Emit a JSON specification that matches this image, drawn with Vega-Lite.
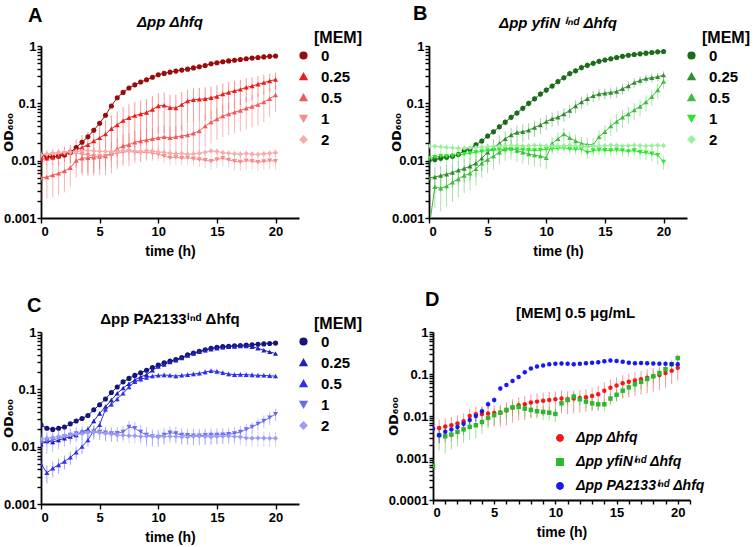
{
  "$schema": "https://vega.github.io/schema/vega-lite/v6.json",
  "background": "white",
  "padding": {"left": 2, "top": 4, "right": 4, "bottom": 4},
  "data": {"values": [
    {"g":"A","m":"0","t":0,"y":0.0124},{"g":"A","m":"0","t":0.5,"y":0.0118},{"g":"A","m":"0","t":1,"y":0.0116},{"g":"A","m":"0","t":1.5,"y":0.012},{"g":"A","m":"0","t":2,"y":0.0126},{"g":"A","m":"0","t":2.5,"y":0.014},{"g":"A","m":"0","t":3,"y":0.017},{"g":"A","m":"0","t":3.5,"y":0.021},{"g":"A","m":"0","t":4,"y":0.026},{"g":"A","m":"0","t":4.5,"y":0.034},{"g":"A","m":"0","t":5,"y":0.045},{"g":"A","m":"0","t":5.5,"y":0.062},{"g":"A","m":"0","t":6,"y":0.09},{"g":"A","m":"0","t":6.5,"y":0.125},{"g":"A","m":"0","t":7,"y":0.155},{"g":"A","m":"0","t":7.5,"y":0.185},{"g":"A","m":"0","t":8,"y":0.21},{"g":"A","m":"0","t":8.5,"y":0.235},{"g":"A","m":"0","t":9,"y":0.258},{"g":"A","m":"0","t":9.5,"y":0.285},{"g":"A","m":"0","t":10,"y":0.315},{"g":"A","m":"0","t":10.5,"y":0.333},{"g":"A","m":"0","t":11,"y":0.35},{"g":"A","m":"0","t":11.5,"y":0.365},{"g":"A","m":"0","t":12,"y":0.38},{"g":"A","m":"0","t":12.5,"y":0.395},{"g":"A","m":"0","t":13,"y":0.415},{"g":"A","m":"0","t":13.5,"y":0.435},{"g":"A","m":"0","t":14,"y":0.455},{"g":"A","m":"0","t":14.5,"y":0.49},{"g":"A","m":"0","t":15,"y":0.51},{"g":"A","m":"0","t":15.5,"y":0.53},{"g":"A","m":"0","t":16,"y":0.55},{"g":"A","m":"0","t":16.5,"y":0.565},{"g":"A","m":"0","t":17,"y":0.58},{"g":"A","m":"0","t":17.5,"y":0.6},{"g":"A","m":"0","t":18,"y":0.615},{"g":"A","m":"0","t":18.5,"y":0.63},{"g":"A","m":"0","t":19,"y":0.645},{"g":"A","m":"0","t":19.5,"y":0.66},{"g":"A","m":"0","t":20,"y":0.67},

    {"g":"A","m":"0.25","t":0,"y":0.0105,"e":0.003},{"g":"A","m":"0.25","t":0.5,"y":0.011,"e":0.003},{"g":"A","m":"0.25","t":1,"y":0.0115,"e":0.003},{"g":"A","m":"0.25","t":1.5,"y":0.012,"e":0.0035},{"g":"A","m":"0.25","t":2,"y":0.0135,"e":0.004},{"g":"A","m":"0.25","t":2.5,"y":0.014,"e":0.005},{"g":"A","m":"0.25","t":3,"y":0.0155,"e":0.008},{"g":"A","m":"0.25","t":3.5,"y":0.017,"e":0.011},{"g":"A","m":"0.25","t":4,"y":0.019,"e":0.013},{"g":"A","m":"0.25","t":4.5,"y":0.022,"e":0.016},{"g":"A","m":"0.25","t":5,"y":0.025,"e":0.018},{"g":"A","m":"0.25","t":5.5,"y":0.029,"e":0.021},{"g":"A","m":"0.25","t":6,"y":0.036,"e":0.026},{"g":"A","m":"0.25","t":6.5,"y":0.042,"e":0.03},{"g":"A","m":"0.25","t":7,"y":0.05,"e":0.036},{"g":"A","m":"0.25","t":7.5,"y":0.056,"e":0.04},{"g":"A","m":"0.25","t":8,"y":0.061,"e":0.044},{"g":"A","m":"0.25","t":8.5,"y":0.065,"e":0.047},{"g":"A","m":"0.25","t":9,"y":0.069,"e":0.05},{"g":"A","m":"0.25","t":9.5,"y":0.078,"e":0.056},{"g":"A","m":"0.25","t":10,"y":0.09,"e":0.06},{"g":"A","m":"0.25","t":10.5,"y":0.092,"e":0.062},{"g":"A","m":"0.25","t":11,"y":0.084,"e":0.058},{"g":"A","m":"0.25","t":11.5,"y":0.083,"e":0.058},{"g":"A","m":"0.25","t":12,"y":0.095,"e":0.062},{"g":"A","m":"0.25","t":12.5,"y":0.11,"e":0.065},{"g":"A","m":"0.25","t":13,"y":0.115,"e":0.068},{"g":"A","m":"0.25","t":13.5,"y":0.118,"e":0.068},{"g":"A","m":"0.25","t":14,"y":0.12,"e":0.07},{"g":"A","m":"0.25","t":14.5,"y":0.125,"e":0.072},{"g":"A","m":"0.25","t":15,"y":0.132,"e":0.075},{"g":"A","m":"0.25","t":15.5,"y":0.145,"e":0.078},{"g":"A","m":"0.25","t":16,"y":0.155,"e":0.08},{"g":"A","m":"0.25","t":16.5,"y":0.165,"e":0.082},{"g":"A","m":"0.25","t":17,"y":0.175,"e":0.083},{"g":"A","m":"0.25","t":17.5,"y":0.19,"e":0.085},{"g":"A","m":"0.25","t":18,"y":0.2,"e":0.085},{"g":"A","m":"0.25","t":18.5,"y":0.215,"e":0.085},{"g":"A","m":"0.25","t":19,"y":0.23,"e":0.085},{"g":"A","m":"0.25","t":19.5,"y":0.245,"e":0.085},{"g":"A","m":"0.25","t":20,"y":0.26,"e":0.085},

    {"g":"A","m":"0.5","t":0,"y":0.005,"e":0.003},{"g":"A","m":"0.5","t":0.5,"y":0.0052,"e":0.003},{"g":"A","m":"0.5","t":1,"y":0.0056,"e":0.0033},{"g":"A","m":"0.5","t":1.5,"y":0.006,"e":0.0035},{"g":"A","m":"0.5","t":2,"y":0.0066,"e":0.0038},{"g":"A","m":"0.5","t":2.5,"y":0.0075,"e":0.004},{"g":"A","m":"0.5","t":3,"y":0.01,"e":0.005},{"g":"A","m":"0.5","t":3.5,"y":0.011,"e":0.0055},{"g":"A","m":"0.5","t":4,"y":0.0112,"e":0.0058},{"g":"A","m":"0.5","t":4.5,"y":0.0115,"e":0.006},{"g":"A","m":"0.5","t":5,"y":0.0118,"e":0.0062},{"g":"A","m":"0.5","t":5.5,"y":0.012,"e":0.0065},{"g":"A","m":"0.5","t":6,"y":0.0135,"e":0.0075},{"g":"A","m":"0.5","t":6.5,"y":0.016,"e":0.009},{"g":"A","m":"0.5","t":7,"y":0.018,"e":0.01},{"g":"A","m":"0.5","t":7.5,"y":0.019,"e":0.011},{"g":"A","m":"0.5","t":8,"y":0.021,"e":0.012},{"g":"A","m":"0.5","t":8.5,"y":0.022,"e":0.0125},{"g":"A","m":"0.5","t":9,"y":0.023,"e":0.013},{"g":"A","m":"0.5","t":9.5,"y":0.024,"e":0.0135},{"g":"A","m":"0.5","t":10,"y":0.025,"e":0.014},{"g":"A","m":"0.5","t":10.5,"y":0.026,"e":0.0145},{"g":"A","m":"0.5","t":11,"y":0.025,"e":0.014},{"g":"A","m":"0.5","t":11.5,"y":0.026,"e":0.0145},{"g":"A","m":"0.5","t":12,"y":0.027,"e":0.015},{"g":"A","m":"0.5","t":12.5,"y":0.028,"e":0.0155},{"g":"A","m":"0.5","t":13,"y":0.03,"e":0.017},{"g":"A","m":"0.5","t":13.5,"y":0.033,"e":0.019},{"g":"A","m":"0.5","t":14,"y":0.04,"e":0.023},{"g":"A","m":"0.5","t":14.5,"y":0.047,"e":0.027},{"g":"A","m":"0.5","t":15,"y":0.053,"e":0.03},{"g":"A","m":"0.5","t":15.5,"y":0.06,"e":0.034},{"g":"A","m":"0.5","t":16,"y":0.065,"e":0.037},{"g":"A","m":"0.5","t":16.5,"y":0.07,"e":0.04},{"g":"A","m":"0.5","t":17,"y":0.075,"e":0.043},{"g":"A","m":"0.5","t":17.5,"y":0.082,"e":0.047},{"g":"A","m":"0.5","t":18,"y":0.088,"e":0.05},{"g":"A","m":"0.5","t":18.5,"y":0.095,"e":0.054},{"g":"A","m":"0.5","t":19,"y":0.105,"e":0.058},{"g":"A","m":"0.5","t":19.5,"y":0.12,"e":0.062},{"g":"A","m":"0.5","t":20,"y":0.14,"e":0.07},

    {"g":"A","m":"1","t":0,"y":0.012,"e":0.003},{"g":"A","m":"1","t":0.5,"y":0.0125,"e":0.003},{"g":"A","m":"1","t":1,"y":0.013,"e":0.003},{"g":"A","m":"1","t":1.5,"y":0.013,"e":0.003},{"g":"A","m":"1","t":2,"y":0.0135,"e":0.003},{"g":"A","m":"1","t":2.5,"y":0.0135,"e":0.003},{"g":"A","m":"1","t":3,"y":0.0135,"e":0.003},{"g":"A","m":"1","t":3.5,"y":0.013,"e":0.003},{"g":"A","m":"1","t":4,"y":0.0125,"e":0.0035},{"g":"A","m":"1","t":4.5,"y":0.012,"e":0.004},{"g":"A","m":"1","t":5,"y":0.0118,"e":0.0045},{"g":"A","m":"1","t":5.5,"y":0.012,"e":0.005},{"g":"A","m":"1","t":6,"y":0.013,"e":0.0055},{"g":"A","m":"1","t":6.5,"y":0.0135,"e":0.0055},{"g":"A","m":"1","t":7,"y":0.014,"e":0.005},{"g":"A","m":"1","t":7.5,"y":0.0145,"e":0.0045},{"g":"A","m":"1","t":8,"y":0.014,"e":0.004},{"g":"A","m":"1","t":8.5,"y":0.0138,"e":0.004},{"g":"A","m":"1","t":9,"y":0.014,"e":0.0035},{"g":"A","m":"1","t":9.5,"y":0.0135,"e":0.0035},{"g":"A","m":"1","t":10,"y":0.013,"e":0.003},{"g":"A","m":"1","t":10.5,"y":0.012,"e":0.003},{"g":"A","m":"1","t":11,"y":0.0112,"e":0.003},{"g":"A","m":"1","t":11.5,"y":0.0115,"e":0.003},{"g":"A","m":"1","t":12,"y":0.011,"e":0.0028},{"g":"A","m":"1","t":12.5,"y":0.0112,"e":0.0028},{"g":"A","m":"1","t":13,"y":0.0108,"e":0.0028},{"g":"A","m":"1","t":13.5,"y":0.0105,"e":0.0028},{"g":"A","m":"1","t":14,"y":0.0102,"e":0.0028},{"g":"A","m":"1","t":14.5,"y":0.0098,"e":0.0028},{"g":"A","m":"1","t":15,"y":0.0105,"e":0.003},{"g":"A","m":"1","t":15.5,"y":0.011,"e":0.003},{"g":"A","m":"1","t":16,"y":0.0103,"e":0.003},{"g":"A","m":"1","t":16.5,"y":0.0098,"e":0.003},{"g":"A","m":"1","t":17,"y":0.0095,"e":0.003},{"g":"A","m":"1","t":17.5,"y":0.01,"e":0.003},{"g":"A","m":"1","t":18,"y":0.0098,"e":0.0028},{"g":"A","m":"1","t":18.5,"y":0.0094,"e":0.0028},{"g":"A","m":"1","t":19,"y":0.0097,"e":0.0028},{"g":"A","m":"1","t":19.5,"y":0.01,"e":0.0028},{"g":"A","m":"1","t":20,"y":0.0098,"e":0.0028},

    {"g":"A","m":"2","t":0,"y":0.0125,"e":0.002},{"g":"A","m":"2","t":0.5,"y":0.013,"e":0.002},{"g":"A","m":"2","t":1,"y":0.0135,"e":0.002},{"g":"A","m":"2","t":1.5,"y":0.014,"e":0.002},{"g":"A","m":"2","t":2,"y":0.014,"e":0.002},{"g":"A","m":"2","t":2.5,"y":0.0142,"e":0.002},{"g":"A","m":"2","t":3,"y":0.0145,"e":0.0025},{"g":"A","m":"2","t":3.5,"y":0.0148,"e":0.0025},{"g":"A","m":"2","t":4,"y":0.015,"e":0.0025},{"g":"A","m":"2","t":4.5,"y":0.0148,"e":0.0025},{"g":"A","m":"2","t":5,"y":0.0146,"e":0.0025},{"g":"A","m":"2","t":5.5,"y":0.0145,"e":0.0025},{"g":"A","m":"2","t":6,"y":0.0143,"e":0.0025},{"g":"A","m":"2","t":6.5,"y":0.0146,"e":0.0025},{"g":"A","m":"2","t":7,"y":0.015,"e":0.0025},{"g":"A","m":"2","t":7.5,"y":0.0148,"e":0.0025},{"g":"A","m":"2","t":8,"y":0.0145,"e":0.002},{"g":"A","m":"2","t":8.5,"y":0.0143,"e":0.002},{"g":"A","m":"2","t":9,"y":0.015,"e":0.002},{"g":"A","m":"2","t":9.5,"y":0.0147,"e":0.002},{"g":"A","m":"2","t":10,"y":0.0142,"e":0.002},{"g":"A","m":"2","t":10.5,"y":0.014,"e":0.002},{"g":"A","m":"2","t":11,"y":0.0135,"e":0.002},{"g":"A","m":"2","t":11.5,"y":0.0132,"e":0.002},{"g":"A","m":"2","t":12,"y":0.0134,"e":0.002},{"g":"A","m":"2","t":12.5,"y":0.013,"e":0.002},{"g":"A","m":"2","t":13,"y":0.0132,"e":0.002},{"g":"A","m":"2","t":13.5,"y":0.0135,"e":0.002},{"g":"A","m":"2","t":14,"y":0.014,"e":0.002},{"g":"A","m":"2","t":14.5,"y":0.0148,"e":0.002},{"g":"A","m":"2","t":15,"y":0.0145,"e":0.002},{"g":"A","m":"2","t":15.5,"y":0.0138,"e":0.002},{"g":"A","m":"2","t":16,"y":0.0135,"e":0.002},{"g":"A","m":"2","t":16.5,"y":0.0132,"e":0.002},{"g":"A","m":"2","t":17,"y":0.013,"e":0.002},{"g":"A","m":"2","t":17.5,"y":0.0133,"e":0.002},{"g":"A","m":"2","t":18,"y":0.013,"e":0.002},{"g":"A","m":"2","t":18.5,"y":0.0128,"e":0.002},{"g":"A","m":"2","t":19,"y":0.0132,"e":0.002},{"g":"A","m":"2","t":19.5,"y":0.0135,"e":0.002},{"g":"A","m":"2","t":20,"y":0.0138,"e":0.002},

    {"g":"B","m":"0","t":0,"y":0.01,"e":0.0012},{"g":"B","m":"0","t":0.5,"y":0.0105,"e":0.0013},{"g":"B","m":"0","t":1,"y":0.011,"e":0.0013},{"g":"B","m":"0","t":1.5,"y":0.0115,"e":0.0014},{"g":"B","m":"0","t":2,"y":0.012,"e":0.0014},{"g":"B","m":"0","t":2.5,"y":0.0128,"e":0.0015},{"g":"B","m":"0","t":3,"y":0.015,"e":0.0018},{"g":"B","m":"0","t":3.5,"y":0.016,"e":0.002},{"g":"B","m":"0","t":4,"y":0.019,"e":0.0023},{"g":"B","m":"0","t":4.5,"y":0.022,"e":0.0026},{"g":"B","m":"0","t":5,"y":0.027,"e":0.0032},{"g":"B","m":"0","t":5.5,"y":0.032,"e":0.0038},{"g":"B","m":"0","t":6,"y":0.039,"e":0.0047},{"g":"B","m":"0","t":6.5,"y":0.047,"e":0.0056},{"g":"B","m":"0","t":7,"y":0.057,"e":0.0068},{"g":"B","m":"0","t":7.5,"y":0.068,"e":0.0082},{"g":"B","m":"0","t":8,"y":0.082,"e":0.01},{"g":"B","m":"0","t":8.5,"y":0.1,"e":0.012},{"g":"B","m":"0","t":9,"y":0.12,"e":0.015},{"g":"B","m":"0","t":9.5,"y":0.145,"e":0.018},{"g":"B","m":"0","t":10,"y":0.17,"e":0.021},{"g":"B","m":"0","t":10.5,"y":0.2,"e":0.025},{"g":"B","m":"0","t":11,"y":0.24,"e":0.029},{"g":"B","m":"0","t":11.5,"y":0.28,"e":0.034},{"g":"B","m":"0","t":12,"y":0.33,"e":0.04},{"g":"B","m":"0","t":12.5,"y":0.37,"e":0.044},{"g":"B","m":"0","t":13,"y":0.42,"e":0.05},{"g":"B","m":"0","t":13.5,"y":0.46,"e":0.055},{"g":"B","m":"0","t":14,"y":0.5,"e":0.06},{"g":"B","m":"0","t":14.5,"y":0.54,"e":0.062},{"g":"B","m":"0","t":15,"y":0.57,"e":0.065},{"g":"B","m":"0","t":15.5,"y":0.6,"e":0.066},{"g":"B","m":"0","t":16,"y":0.63,"e":0.066},{"g":"B","m":"0","t":16.5,"y":0.66,"e":0.066},{"g":"B","m":"0","t":17,"y":0.69,"e":0.066},{"g":"B","m":"0","t":17.5,"y":0.71,"e":0.064},{"g":"B","m":"0","t":18,"y":0.73,"e":0.062},{"g":"B","m":"0","t":18.5,"y":0.75,"e":0.06},{"g":"B","m":"0","t":19,"y":0.77,"e":0.058},{"g":"B","m":"0","t":19.5,"y":0.79,"e":0.055},{"g":"B","m":"0","t":20,"y":0.8,"e":0.05},

    {"g":"B","m":"0.25","t":0,"y":0.005,"e":0.0025},{"g":"B","m":"0.25","t":0.5,"y":0.0052,"e":0.0025},{"g":"B","m":"0.25","t":1,"y":0.0055,"e":0.0026},{"g":"B","m":"0.25","t":1.5,"y":0.0058,"e":0.0027},{"g":"B","m":"0.25","t":2,"y":0.0062,"e":0.0028},{"g":"B","m":"0.25","t":2.5,"y":0.0068,"e":0.003},{"g":"B","m":"0.25","t":3,"y":0.0073,"e":0.0032},{"g":"B","m":"0.25","t":3.5,"y":0.008,"e":0.0035},{"g":"B","m":"0.25","t":4,"y":0.009,"e":0.0038},{"g":"B","m":"0.25","t":4.5,"y":0.011,"e":0.0045},{"g":"B","m":"0.25","t":5,"y":0.014,"e":0.0055},{"g":"B","m":"0.25","t":5.5,"y":0.017,"e":0.0065},{"g":"B","m":"0.25","t":6,"y":0.02,"e":0.0075},{"g":"B","m":"0.25","t":6.5,"y":0.024,"e":0.0085},{"g":"B","m":"0.25","t":7,"y":0.028,"e":0.0095},{"g":"B","m":"0.25","t":7.5,"y":0.031,"e":0.01},{"g":"B","m":"0.25","t":8,"y":0.032,"e":0.011},{"g":"B","m":"0.25","t":8.5,"y":0.034,"e":0.011},{"g":"B","m":"0.25","t":9,"y":0.038,"e":0.012},{"g":"B","m":"0.25","t":9.5,"y":0.042,"e":0.013},{"g":"B","m":"0.25","t":10,"y":0.048,"e":0.014},{"g":"B","m":"0.25","t":10.5,"y":0.054,"e":0.015},{"g":"B","m":"0.25","t":11,"y":0.057,"e":0.016},{"g":"B","m":"0.25","t":11.5,"y":0.065,"e":0.018},{"g":"B","m":"0.25","t":12,"y":0.075,"e":0.02},{"g":"B","m":"0.25","t":12.5,"y":0.09,"e":0.023},{"g":"B","m":"0.25","t":13,"y":0.105,"e":0.026},{"g":"B","m":"0.25","t":13.5,"y":0.12,"e":0.028},{"g":"B","m":"0.25","t":14,"y":0.135,"e":0.03},{"g":"B","m":"0.25","t":14.5,"y":0.145,"e":0.032},{"g":"B","m":"0.25","t":15,"y":0.15,"e":0.033},{"g":"B","m":"0.25","t":15.5,"y":0.155,"e":0.034},{"g":"B","m":"0.25","t":16,"y":0.16,"e":0.035},{"g":"B","m":"0.25","t":16.5,"y":0.18,"e":0.038},{"g":"B","m":"0.25","t":17,"y":0.2,"e":0.04},{"g":"B","m":"0.25","t":17.5,"y":0.23,"e":0.043},{"g":"B","m":"0.25","t":18,"y":0.25,"e":0.045},{"g":"B","m":"0.25","t":18.5,"y":0.27,"e":0.048},{"g":"B","m":"0.25","t":19,"y":0.28,"e":0.05},{"g":"B","m":"0.25","t":19.5,"y":0.29,"e":0.05},{"g":"B","m":"0.25","t":20,"y":0.31,"e":0.05},

    {"g":"B","m":"0.5","t":0,"y":0.00065,"e":0.0003},{"g":"B","m":"0.5","t":0.5,"y":0.0035,"e":0.002},{"g":"B","m":"0.5","t":1,"y":0.0033,"e":0.002},{"g":"B","m":"0.5","t":1.5,"y":0.0036,"e":0.002},{"g":"B","m":"0.5","t":2,"y":0.0042,"e":0.0023},{"g":"B","m":"0.5","t":2.5,"y":0.0048,"e":0.0025},{"g":"B","m":"0.5","t":3,"y":0.0055,"e":0.0028},{"g":"B","m":"0.5","t":3.5,"y":0.006,"e":0.003},{"g":"B","m":"0.5","t":4,"y":0.0072,"e":0.0035},{"g":"B","m":"0.5","t":4.5,"y":0.009,"e":0.004},{"g":"B","m":"0.5","t":5,"y":0.0105,"e":0.0045},{"g":"B","m":"0.5","t":5.5,"y":0.012,"e":0.005},{"g":"B","m":"0.5","t":6,"y":0.014,"e":0.0055},{"g":"B","m":"0.5","t":6.5,"y":0.016,"e":0.006},{"g":"B","m":"0.5","t":7,"y":0.0165,"e":0.006},{"g":"B","m":"0.5","t":7.5,"y":0.015,"e":0.0055},{"g":"B","m":"0.5","t":8,"y":0.014,"e":0.005},{"g":"B","m":"0.5","t":8.5,"y":0.013,"e":0.0045},{"g":"B","m":"0.5","t":9,"y":0.0125,"e":0.0045},{"g":"B","m":"0.5","t":9.5,"y":0.012,"e":0.0042},{"g":"B","m":"0.5","t":10,"y":0.0112,"e":0.004},{"g":"B","m":"0.5","t":10.5,"y":0.02,"e":0.006},{"g":"B","m":"0.5","t":11,"y":0.024,"e":0.007},{"g":"B","m":"0.5","t":11.5,"y":0.029,"e":0.008},{"g":"B","m":"0.5","t":12,"y":0.025,"e":0.007},{"g":"B","m":"0.5","t":12.5,"y":0.022,"e":0.0065},{"g":"B","m":"0.5","t":13,"y":0.02,"e":0.006},{"g":"B","m":"0.5","t":13.5,"y":0.019,"e":0.006},{"g":"B","m":"0.5","t":14,"y":0.019,"e":0.006},{"g":"B","m":"0.5","t":14.5,"y":0.026,"e":0.008},{"g":"B","m":"0.5","t":15,"y":0.032,"e":0.01},{"g":"B","m":"0.5","t":15.5,"y":0.04,"e":0.013},{"g":"B","m":"0.5","t":16,"y":0.048,"e":0.016},{"g":"B","m":"0.5","t":16.5,"y":0.057,"e":0.019},{"g":"B","m":"0.5","t":17,"y":0.065,"e":0.022},{"g":"B","m":"0.5","t":17.5,"y":0.076,"e":0.025},{"g":"B","m":"0.5","t":18,"y":0.088,"e":0.029},{"g":"B","m":"0.5","t":18.5,"y":0.105,"e":0.033},{"g":"B","m":"0.5","t":19,"y":0.13,"e":0.04},{"g":"B","m":"0.5","t":19.5,"y":0.17,"e":0.05},{"g":"B","m":"0.5","t":20,"y":0.24,"e":0.06},

    {"g":"B","m":"1","t":0,"y":0.011,"e":0.003},{"g":"B","m":"1","t":0.5,"y":0.0115,"e":0.003},{"g":"B","m":"1","t":1,"y":0.012,"e":0.003},{"g":"B","m":"1","t":1.5,"y":0.0118,"e":0.003},{"g":"B","m":"1","t":2,"y":0.012,"e":0.003},{"g":"B","m":"1","t":2.5,"y":0.0125,"e":0.003},{"g":"B","m":"1","t":3,"y":0.013,"e":0.003},{"g":"B","m":"1","t":3.5,"y":0.0135,"e":0.003},{"g":"B","m":"1","t":4,"y":0.014,"e":0.003},{"g":"B","m":"1","t":4.5,"y":0.0145,"e":0.003},{"g":"B","m":"1","t":5,"y":0.015,"e":0.003},{"g":"B","m":"1","t":5.5,"y":0.0152,"e":0.003},{"g":"B","m":"1","t":6,"y":0.0155,"e":0.003},{"g":"B","m":"1","t":6.5,"y":0.016,"e":0.003},{"g":"B","m":"1","t":7,"y":0.0158,"e":0.003},{"g":"B","m":"1","t":7.5,"y":0.016,"e":0.003},{"g":"B","m":"1","t":8,"y":0.0155,"e":0.003},{"g":"B","m":"1","t":8.5,"y":0.0152,"e":0.003},{"g":"B","m":"1","t":9,"y":0.015,"e":0.003},{"g":"B","m":"1","t":9.5,"y":0.0153,"e":0.003},{"g":"B","m":"1","t":10,"y":0.0158,"e":0.003},{"g":"B","m":"1","t":10.5,"y":0.016,"e":0.003},{"g":"B","m":"1","t":11,"y":0.0165,"e":0.003},{"g":"B","m":"1","t":11.5,"y":0.0168,"e":0.003},{"g":"B","m":"1","t":12,"y":0.016,"e":0.003},{"g":"B","m":"1","t":12.5,"y":0.0158,"e":0.003},{"g":"B","m":"1","t":13,"y":0.016,"e":0.003},{"g":"B","m":"1","t":13.5,"y":0.0138,"e":0.003},{"g":"B","m":"1","t":14,"y":0.015,"e":0.003},{"g":"B","m":"1","t":14.5,"y":0.0155,"e":0.003},{"g":"B","m":"1","t":15,"y":0.0152,"e":0.003},{"g":"B","m":"1","t":15.5,"y":0.015,"e":0.003},{"g":"B","m":"1","t":16,"y":0.0155,"e":0.003},{"g":"B","m":"1","t":16.5,"y":0.015,"e":0.003},{"g":"B","m":"1","t":17,"y":0.0145,"e":0.003},{"g":"B","m":"1","t":17.5,"y":0.015,"e":0.003},{"g":"B","m":"1","t":18,"y":0.014,"e":0.0035},{"g":"B","m":"1","t":18.5,"y":0.0138,"e":0.0035},{"g":"B","m":"1","t":19,"y":0.0132,"e":0.0035},{"g":"B","m":"1","t":19.5,"y":0.0125,"e":0.004},{"g":"B","m":"1","t":20,"y":0.0095,"e":0.0025},

    {"g":"B","m":"2","t":0,"y":0.018,"e":0.0025},{"g":"B","m":"2","t":0.5,"y":0.0178,"e":0.0025},{"g":"B","m":"2","t":1,"y":0.0175,"e":0.0025},{"g":"B","m":"2","t":1.5,"y":0.017,"e":0.0025},{"g":"B","m":"2","t":2,"y":0.0168,"e":0.0025},{"g":"B","m":"2","t":2.5,"y":0.0165,"e":0.0025},{"g":"B","m":"2","t":3,"y":0.0165,"e":0.0025},{"g":"B","m":"2","t":3.5,"y":0.0168,"e":0.0025},{"g":"B","m":"2","t":4,"y":0.017,"e":0.0025},{"g":"B","m":"2","t":4.5,"y":0.0172,"e":0.0025},{"g":"B","m":"2","t":5,"y":0.0175,"e":0.0025},{"g":"B","m":"2","t":5.5,"y":0.0178,"e":0.0025},{"g":"B","m":"2","t":6,"y":0.018,"e":0.0025},{"g":"B","m":"2","t":6.5,"y":0.0182,"e":0.0025},{"g":"B","m":"2","t":7,"y":0.0185,"e":0.0025},{"g":"B","m":"2","t":7.5,"y":0.0183,"e":0.0025},{"g":"B","m":"2","t":8,"y":0.018,"e":0.0025},{"g":"B","m":"2","t":8.5,"y":0.0182,"e":0.0025},{"g":"B","m":"2","t":9,"y":0.0185,"e":0.0025},{"g":"B","m":"2","t":9.5,"y":0.0183,"e":0.0025},{"g":"B","m":"2","t":10,"y":0.018,"e":0.0025},{"g":"B","m":"2","t":10.5,"y":0.0178,"e":0.0025},{"g":"B","m":"2","t":11,"y":0.018,"e":0.0025},{"g":"B","m":"2","t":11.5,"y":0.0182,"e":0.0025},{"g":"B","m":"2","t":12,"y":0.0185,"e":0.0025},{"g":"B","m":"2","t":12.5,"y":0.018,"e":0.0025},{"g":"B","m":"2","t":13,"y":0.0178,"e":0.0025},{"g":"B","m":"2","t":13.5,"y":0.0175,"e":0.0025},{"g":"B","m":"2","t":14,"y":0.0178,"e":0.0025},{"g":"B","m":"2","t":14.5,"y":0.018,"e":0.0025},{"g":"B","m":"2","t":15,"y":0.0182,"e":0.0025},{"g":"B","m":"2","t":15.5,"y":0.0185,"e":0.0025},{"g":"B","m":"2","t":16,"y":0.0183,"e":0.0025},{"g":"B","m":"2","t":16.5,"y":0.018,"e":0.0025},{"g":"B","m":"2","t":17,"y":0.0182,"e":0.0025},{"g":"B","m":"2","t":17.5,"y":0.0185,"e":0.0025},{"g":"B","m":"2","t":18,"y":0.0183,"e":0.0025},{"g":"B","m":"2","t":18.5,"y":0.018,"e":0.0025},{"g":"B","m":"2","t":19,"y":0.0182,"e":0.0025},{"g":"B","m":"2","t":19.5,"y":0.0185,"e":0.0025},{"g":"B","m":"2","t":20,"y":0.0183,"e":0.0025},

    {"g":"C","m":"0","t":0,"y":0.024,"e":0.0012},{"g":"C","m":"0","t":0.5,"y":0.021,"e":0.001},{"g":"C","m":"0","t":1,"y":0.02,"e":0.001},{"g":"C","m":"0","t":1.5,"y":0.021,"e":0.001},{"g":"C","m":"0","t":2,"y":0.022,"e":0.0011},{"g":"C","m":"0","t":2.5,"y":0.025,"e":0.0012},{"g":"C","m":"0","t":3,"y":0.028,"e":0.0014},{"g":"C","m":"0","t":3.5,"y":0.031,"e":0.0016},{"g":"C","m":"0","t":4,"y":0.035,"e":0.0018},{"g":"C","m":"0","t":4.5,"y":0.044,"e":0.0022},{"g":"C","m":"0","t":5,"y":0.054,"e":0.0027},{"g":"C","m":"0","t":5.5,"y":0.068,"e":0.0034},{"g":"C","m":"0","t":6,"y":0.088,"e":0.0044},{"g":"C","m":"0","t":6.5,"y":0.11,"e":0.0055},{"g":"C","m":"0","t":7,"y":0.135,"e":0.0068},{"g":"C","m":"0","t":7.5,"y":0.155,"e":0.0078},{"g":"C","m":"0","t":8,"y":0.175,"e":0.0088},{"g":"C","m":"0","t":8.5,"y":0.195,"e":0.0098},{"g":"C","m":"0","t":9,"y":0.215,"e":0.011},{"g":"C","m":"0","t":9.5,"y":0.24,"e":0.012},{"g":"C","m":"0","t":10,"y":0.265,"e":0.013},{"g":"C","m":"0","t":10.5,"y":0.29,"e":0.0145},{"g":"C","m":"0","t":11,"y":0.31,"e":0.0155},{"g":"C","m":"0","t":11.5,"y":0.33,"e":0.0165},{"g":"C","m":"0","t":12,"y":0.36,"e":0.018},{"g":"C","m":"0","t":12.5,"y":0.4,"e":0.02},{"g":"C","m":"0","t":13,"y":0.43,"e":0.021},{"g":"C","m":"0","t":13.5,"y":0.46,"e":0.023},{"g":"C","m":"0","t":14,"y":0.49,"e":0.024},{"g":"C","m":"0","t":14.5,"y":0.52,"e":0.026},{"g":"C","m":"0","t":15,"y":0.54,"e":0.027},{"g":"C","m":"0","t":15.5,"y":0.555,"e":0.028},{"g":"C","m":"0","t":16,"y":0.565,"e":0.028},{"g":"C","m":"0","t":16.5,"y":0.575,"e":0.029},{"g":"C","m":"0","t":17,"y":0.58,"e":0.029},{"g":"C","m":"0","t":17.5,"y":0.59,"e":0.03},{"g":"C","m":"0","t":18,"y":0.6,"e":0.03},{"g":"C","m":"0","t":18.5,"y":0.61,"e":0.03},{"g":"C","m":"0","t":19,"y":0.62,"e":0.031},{"g":"C","m":"0","t":19.5,"y":0.63,"e":0.031},{"g":"C","m":"0","t":20,"y":0.64,"e":0.032},

    {"g":"C","m":"0.25","t":0,"y":0.011,"e":0.0012},{"g":"C","m":"0.25","t":0.5,"y":0.0125,"e":0.0013},{"g":"C","m":"0.25","t":1,"y":0.012,"e":0.0013},{"g":"C","m":"0.25","t":1.5,"y":0.013,"e":0.0014},{"g":"C","m":"0.25","t":2,"y":0.014,"e":0.0015},{"g":"C","m":"0.25","t":2.5,"y":0.015,"e":0.0016},{"g":"C","m":"0.25","t":3,"y":0.016,"e":0.0017},{"g":"C","m":"0.25","t":3.5,"y":0.018,"e":0.0019},{"g":"C","m":"0.25","t":4,"y":0.02,"e":0.0021},{"g":"C","m":"0.25","t":4.5,"y":0.028,"e":0.0028},{"g":"C","m":"0.25","t":5,"y":0.038,"e":0.0035},{"g":"C","m":"0.25","t":5.5,"y":0.05,"e":0.0045},{"g":"C","m":"0.25","t":6,"y":0.065,"e":0.0055},{"g":"C","m":"0.25","t":6.5,"y":0.085,"e":0.0068},{"g":"C","m":"0.25","t":7,"y":0.105,"e":0.008},{"g":"C","m":"0.25","t":7.5,"y":0.125,"e":0.0095},{"g":"C","m":"0.25","t":8,"y":0.145,"e":0.011},{"g":"C","m":"0.25","t":8.5,"y":0.165,"e":0.012},{"g":"C","m":"0.25","t":9,"y":0.18,"e":0.013},{"g":"C","m":"0.25","t":9.5,"y":0.215,"e":0.016},{"g":"C","m":"0.25","t":10,"y":0.25,"e":0.018},{"g":"C","m":"0.25","t":10.5,"y":0.27,"e":0.019},{"g":"C","m":"0.25","t":11,"y":0.3,"e":0.021},{"g":"C","m":"0.25","t":11.5,"y":0.32,"e":0.022},{"g":"C","m":"0.25","t":12,"y":0.35,"e":0.024},{"g":"C","m":"0.25","t":12.5,"y":0.39,"e":0.026},{"g":"C","m":"0.25","t":13,"y":0.42,"e":0.028},{"g":"C","m":"0.25","t":13.5,"y":0.45,"e":0.03},{"g":"C","m":"0.25","t":14,"y":0.48,"e":0.032},{"g":"C","m":"0.25","t":14.5,"y":0.5,"e":0.033},{"g":"C","m":"0.25","t":15,"y":0.52,"e":0.034},{"g":"C","m":"0.25","t":15.5,"y":0.54,"e":0.035},{"g":"C","m":"0.25","t":16,"y":0.55,"e":0.035},{"g":"C","m":"0.25","t":16.5,"y":0.56,"e":0.036},{"g":"C","m":"0.25","t":17,"y":0.57,"e":0.036},{"g":"C","m":"0.25","t":17.5,"y":0.57,"e":0.036},{"g":"C","m":"0.25","t":18,"y":0.55,"e":0.035},{"g":"C","m":"0.25","t":18.5,"y":0.52,"e":0.034},{"g":"C","m":"0.25","t":19,"y":0.48,"e":0.032},{"g":"C","m":"0.25","t":19.5,"y":0.45,"e":0.03},{"g":"C","m":"0.25","t":20,"y":0.42,"e":0.028},

    {"g":"C","m":"0.5","t":0,"y":0.005,"e":0.0015},{"g":"C","m":"0.5","t":0.5,"y":0.0035,"e":0.0012},{"g":"C","m":"0.5","t":1,"y":0.0042,"e":0.0013},{"g":"C","m":"0.5","t":1.5,"y":0.0048,"e":0.0014},{"g":"C","m":"0.5","t":2,"y":0.0055,"e":0.0015},{"g":"C","m":"0.5","t":2.5,"y":0.0065,"e":0.0017},{"g":"C","m":"0.5","t":3,"y":0.008,"e":0.002},{"g":"C","m":"0.5","t":3.5,"y":0.01,"e":0.0025},{"g":"C","m":"0.5","t":4,"y":0.013,"e":0.003},{"g":"C","m":"0.5","t":4.5,"y":0.019,"e":0.004},{"g":"C","m":"0.5","t":5,"y":0.024,"e":0.004},{"g":"C","m":"0.5","t":5.5,"y":0.045,"e":0.006},{"g":"C","m":"0.5","t":6,"y":0.055,"e":0.006},{"g":"C","m":"0.5","t":6.5,"y":0.068,"e":0.007},{"g":"C","m":"0.5","t":7,"y":0.085,"e":0.008},{"g":"C","m":"0.5","t":7.5,"y":0.11,"e":0.01},{"g":"C","m":"0.5","t":8,"y":0.135,"e":0.012},{"g":"C","m":"0.5","t":8.5,"y":0.15,"e":0.014},{"g":"C","m":"0.5","t":9,"y":0.16,"e":0.015},{"g":"C","m":"0.5","t":9.5,"y":0.17,"e":0.016},{"g":"C","m":"0.5","t":10,"y":0.175,"e":0.017},{"g":"C","m":"0.5","t":10.5,"y":0.178,"e":0.018},{"g":"C","m":"0.5","t":11,"y":0.175,"e":0.018},{"g":"C","m":"0.5","t":11.5,"y":0.17,"e":0.018},{"g":"C","m":"0.5","t":12,"y":0.175,"e":0.018},{"g":"C","m":"0.5","t":12.5,"y":0.18,"e":0.019},{"g":"C","m":"0.5","t":13,"y":0.185,"e":0.019},{"g":"C","m":"0.5","t":13.5,"y":0.19,"e":0.02},{"g":"C","m":"0.5","t":14,"y":0.2,"e":0.021},{"g":"C","m":"0.5","t":14.5,"y":0.21,"e":0.022},{"g":"C","m":"0.5","t":15,"y":0.205,"e":0.022},{"g":"C","m":"0.5","t":15.5,"y":0.195,"e":0.02},{"g":"C","m":"0.5","t":16,"y":0.185,"e":0.019},{"g":"C","m":"0.5","t":16.5,"y":0.18,"e":0.018},{"g":"C","m":"0.5","t":17,"y":0.182,"e":0.018},{"g":"C","m":"0.5","t":17.5,"y":0.18,"e":0.018},{"g":"C","m":"0.5","t":18,"y":0.178,"e":0.017},{"g":"C","m":"0.5","t":18.5,"y":0.175,"e":0.017},{"g":"C","m":"0.5","t":19,"y":0.175,"e":0.017},{"g":"C","m":"0.5","t":19.5,"y":0.172,"e":0.016},{"g":"C","m":"0.5","t":20,"y":0.17,"e":0.016},

    {"g":"C","m":"1","t":0,"y":0.012,"e":0.005},{"g":"C","m":"1","t":0.5,"y":0.0125,"e":0.005},{"g":"C","m":"1","t":1,"y":0.013,"e":0.005},{"g":"C","m":"1","t":1.5,"y":0.014,"e":0.005},{"g":"C","m":"1","t":2,"y":0.015,"e":0.005},{"g":"C","m":"1","t":2.5,"y":0.016,"e":0.005},{"g":"C","m":"1","t":3,"y":0.017,"e":0.005},{"g":"C","m":"1","t":3.5,"y":0.0175,"e":0.005},{"g":"C","m":"1","t":4,"y":0.018,"e":0.005},{"g":"C","m":"1","t":4.5,"y":0.0182,"e":0.005},{"g":"C","m":"1","t":5,"y":0.018,"e":0.005},{"g":"C","m":"1","t":5.5,"y":0.0175,"e":0.005},{"g":"C","m":"1","t":6,"y":0.017,"e":0.005},{"g":"C","m":"1","t":6.5,"y":0.0172,"e":0.005},{"g":"C","m":"1","t":7,"y":0.018,"e":0.005},{"g":"C","m":"1","t":7.5,"y":0.022,"e":0.006},{"g":"C","m":"1","t":8,"y":0.021,"e":0.006},{"g":"C","m":"1","t":8.5,"y":0.018,"e":0.006},{"g":"C","m":"1","t":9,"y":0.016,"e":0.006},{"g":"C","m":"1","t":9.5,"y":0.015,"e":0.005},{"g":"C","m":"1","t":10,"y":0.0148,"e":0.005},{"g":"C","m":"1","t":10.5,"y":0.016,"e":0.005},{"g":"C","m":"1","t":11,"y":0.0175,"e":0.005},{"g":"C","m":"1","t":11.5,"y":0.017,"e":0.005},{"g":"C","m":"1","t":12,"y":0.016,"e":0.005},{"g":"C","m":"1","t":12.5,"y":0.0158,"e":0.005},{"g":"C","m":"1","t":13,"y":0.0155,"e":0.005},{"g":"C","m":"1","t":13.5,"y":0.0155,"e":0.005},{"g":"C","m":"1","t":14,"y":0.0158,"e":0.005},{"g":"C","m":"1","t":14.5,"y":0.016,"e":0.005},{"g":"C","m":"1","t":15,"y":0.016,"e":0.005},{"g":"C","m":"1","t":15.5,"y":0.0162,"e":0.005},{"g":"C","m":"1","t":16,"y":0.0165,"e":0.005},{"g":"C","m":"1","t":16.5,"y":0.017,"e":0.005},{"g":"C","m":"1","t":17,"y":0.018,"e":0.005},{"g":"C","m":"1","t":17.5,"y":0.02,"e":0.005},{"g":"C","m":"1","t":18,"y":0.022,"e":0.005},{"g":"C","m":"1","t":18.5,"y":0.025,"e":0.006},{"g":"C","m":"1","t":19,"y":0.028,"e":0.007},{"g":"C","m":"1","t":19.5,"y":0.032,"e":0.008},{"g":"C","m":"1","t":20,"y":0.037,"e":0.009},

    {"g":"C","m":"2","t":0,"y":0.0135,"e":0.004},{"g":"C","m":"2","t":0.5,"y":0.014,"e":0.004},{"g":"C","m":"2","t":1,"y":0.0145,"e":0.004},{"g":"C","m":"2","t":1.5,"y":0.015,"e":0.004},{"g":"C","m":"2","t":2,"y":0.0155,"e":0.004},{"g":"C","m":"2","t":2.5,"y":0.016,"e":0.004},{"g":"C","m":"2","t":3,"y":0.0165,"e":0.004},{"g":"C","m":"2","t":3.5,"y":0.017,"e":0.004},{"g":"C","m":"2","t":4,"y":0.0175,"e":0.004},{"g":"C","m":"2","t":4.5,"y":0.0178,"e":0.004},{"g":"C","m":"2","t":5,"y":0.0175,"e":0.004},{"g":"C","m":"2","t":5.5,"y":0.017,"e":0.004},{"g":"C","m":"2","t":6,"y":0.0165,"e":0.004},{"g":"C","m":"2","t":6.5,"y":0.016,"e":0.004},{"g":"C","m":"2","t":7,"y":0.0158,"e":0.004},{"g":"C","m":"2","t":7.5,"y":0.0155,"e":0.004},{"g":"C","m":"2","t":8,"y":0.0155,"e":0.004},{"g":"C","m":"2","t":8.5,"y":0.015,"e":0.004},{"g":"C","m":"2","t":9,"y":0.0152,"e":0.004},{"g":"C","m":"2","t":9.5,"y":0.015,"e":0.004},{"g":"C","m":"2","t":10,"y":0.0148,"e":0.004},{"g":"C","m":"2","t":10.5,"y":0.015,"e":0.004},{"g":"C","m":"2","t":11,"y":0.0152,"e":0.004},{"g":"C","m":"2","t":11.5,"y":0.015,"e":0.004},{"g":"C","m":"2","t":12,"y":0.0148,"e":0.004},{"g":"C","m":"2","t":12.5,"y":0.0147,"e":0.004},{"g":"C","m":"2","t":13,"y":0.015,"e":0.004},{"g":"C","m":"2","t":13.5,"y":0.0152,"e":0.004},{"g":"C","m":"2","t":14,"y":0.015,"e":0.004},{"g":"C","m":"2","t":14.5,"y":0.0148,"e":0.004},{"g":"C","m":"2","t":15,"y":0.015,"e":0.004},{"g":"C","m":"2","t":15.5,"y":0.0152,"e":0.004},{"g":"C","m":"2","t":16,"y":0.0153,"e":0.004},{"g":"C","m":"2","t":16.5,"y":0.015,"e":0.004},{"g":"C","m":"2","t":17,"y":0.0148,"e":0.004},{"g":"C","m":"2","t":17.5,"y":0.0142,"e":0.004},{"g":"C","m":"2","t":18,"y":0.014,"e":0.004},{"g":"C","m":"2","t":18.5,"y":0.0142,"e":0.004},{"g":"C","m":"2","t":19,"y":0.0141,"e":0.004},{"g":"C","m":"2","t":19.5,"y":0.014,"e":0.004},{"g":"C","m":"2","t":20,"y":0.014,"e":0.004}
  ]},
  "config": {
    "font": "Liberation Sans",
    "view": {"stroke": null},
    "axis": {
      "grid": false, "domainColor": "#000", "domainWidth": 1.8, "tickColor": "#000", "tickWidth": 1.4,
      "labelFont": "Liberation Sans", "labelFontSize": 13, "labelFontWeight": "bold", "labelColor": "#000",
      "titleFont": "Liberation Sans", "titleFontSize": 14, "titleFontWeight": "bold", "titleColor": "#000"
    },
    "axisY": {"titleFont": "DejaVu Sans", "titleFontSize": 13},
    "legend": {
      "labelFont": "Liberation Sans", "labelFontSize": 15, "labelFontWeight": "bold", "labelColor": "#000",
      "titleFont": "Liberation Sans", "titleFontSize": 16, "titleFontWeight": "bold", "titleColor": "#000", "symbolOpacity": 1
    },
    "title": {"font": "Liberation Sans", "fontSize": 15, "fontWeight": "bold", "color": "#000"}
  },
  "resolve": {"scale": {"color": "independent", "shape": "independent"}},
  "spacing": 32,
  "vconcat": [
    {
      "spacing": 28,
      "resolve": {"scale": {"color": "independent", "shape": "independent"}},
      "hconcat": [
        {
          "title": {"text": "A", "anchor": "start", "frame": "group", "fontSize": 20, "dx": -13, "offset": -11},
          "resolve": {"scale": {"color": "independent", "shape": "independent"}},
          "vconcat": [{
            "width": 258, "height": 172,
            "title": {"text": "Δpp Δhfq", "fontStyle": "italic", "frame": "group", "offset": 0},
            "transform": [{"filter": "datum.g == 'A'"}],
            "encoding": {
              "x": {"field": "t", "type": "quantitative", "scale": {"domain": [0, 22], "nice": false}, "axis": {"values": [0, 5, 10, 15, 20], "title": "time (h)", "tickSize": 5, "labelPadding": 2, "titlePadding": 6}},
              "y": {"field": "y", "type": "quantitative", "scale": {"type": "log", "domain": [0.001, 1], "nice": false}, "axis": {"title": "OD₆₀₀", "tickCount": 5, "tickSize": 4, "labelPadding": 1, "titlePadding": -12}},
              "color": {"field": "m", "type": "nominal", "scale": {"domain": ["0", "0.25", "0.5", "1", "2"], "range": ["#9B0A0A", "#EE1C1C", "#F25A5A", "#F58C8C", "#F8ABAB"]},
                "legend": {"title": "[MEM]", "orient": "none", "legendX": 255, "legendY": -16, "symbolSize": 45, "rowPadding": 5, "labelOffset": 10, "titlePadding": 2, "encode": {"title": {"update": {"dx": {"value": 18}}}}}}
            },
            "layer": [
              {"mark": {"type": "errorbar", "opacity": 0.45, "thickness": 1, "clip": true}, "encoding": {"yError": {"field": "e"}}},
              {"mark": {"type": "line", "strokeWidth": 1, "clip": true}},
              {"mark": {"type": "point", "filled": true, "opacity": 1, "size": 26, "clip": true},
               "encoding": {"shape": {"field": "m", "type": "nominal", "scale": {"domain": ["0", "0.25", "0.5", "1", "2"], "range": ["circle", "triangle-up", "triangle-up", "triangle-down", "diamond"]},
                 "legend": {"title": "[MEM]", "orient": "none", "legendX": 255, "legendY": -16, "symbolSize": 45, "rowPadding": 5, "labelOffset": 10, "titlePadding": 2, "encode": {"title": {"update": {"dx": {"value": 18}}}}}}}}
            ]
          }]
        },
        {
          "title": {"text": "B", "anchor": "start", "frame": "group", "fontSize": 20, "dx": -16, "offset": -8},
          "resolve": {"scale": {"color": "independent", "shape": "independent"}},
          "vconcat": [{
            "width": 258, "height": 172,
            "title": {"text": "Δpp yfiN ⁱⁿᵈ Δhfq", "fontStyle": "italic", "frame": "group", "offset": -1},
            "transform": [{"filter": "datum.g == 'B'"}],
            "encoding": {
              "x": {"field": "t", "type": "quantitative", "scale": {"domain": [0, 22], "nice": false}, "axis": {"values": [0, 5, 10, 15, 20], "title": "time (h)", "tickSize": 5, "labelPadding": 2, "titlePadding": 6}},
              "y": {"field": "y", "type": "quantitative", "scale": {"type": "log", "domain": [0.001, 1], "nice": false}, "axis": {"title": "OD₆₀₀", "tickCount": 5, "tickSize": 4, "labelPadding": 1, "titlePadding": -12}},
              "color": {"field": "m", "type": "nominal", "scale": {"domain": ["0", "0.25", "0.5", "1", "2"], "range": ["#1B6B1B", "#2F8F2F", "#3DBE3D", "#2BE62B", "#9AF09A"]},
                "legend": {"title": "[MEM]", "orient": "none", "legendX": 255, "legendY": -16, "symbolSize": 45, "rowPadding": 5, "labelOffset": 10, "titlePadding": 2, "encode": {"title": {"update": {"dx": {"value": 18}}}}}}
            },
            "layer": [
              {"mark": {"type": "errorbar", "opacity": 0.45, "thickness": 1, "clip": true}, "encoding": {"yError": {"field": "e"}}},
              {"mark": {"type": "line", "strokeWidth": 1, "clip": true}},
              {"mark": {"type": "point", "filled": true, "opacity": 1, "size": 26, "clip": true},
               "encoding": {"shape": {"field": "m", "type": "nominal", "scale": {"domain": ["0", "0.25", "0.5", "1", "2"], "range": ["circle", "triangle-up", "triangle-up", "triangle-down", "diamond"]},
                 "legend": {"title": "[MEM]", "orient": "none", "legendX": 255, "legendY": -16, "symbolSize": 45, "rowPadding": 5, "labelOffset": 10, "titlePadding": 2, "encode": {"title": {"update": {"dx": {"value": 18}}}}}}}}
            ]
          }]
        }
      ]
    },
    {
      "spacing": 25,
      "resolve": {"scale": {"color": "independent", "shape": "independent"}},
      "hconcat": [
        {
          "title": {"text": "C", "anchor": "start", "frame": "group", "fontSize": 20, "dx": -14, "offset": -4},
          "resolve": {"scale": {"color": "independent", "shape": "independent"}},
          "vconcat": [{
            "width": 258, "height": 172,
            "title": {"text": "Δpp PA2133ⁱⁿᵈ Δhfq", "frame": "group", "offset": -11},
            "transform": [{"filter": "datum.g == 'C'"}],
            "encoding": {
              "x": {"field": "t", "type": "quantitative", "scale": {"domain": [0, 22], "nice": false}, "axis": {"values": [0, 5, 10, 15, 20], "title": "time (h)", "tickSize": 5, "labelPadding": 2, "titlePadding": 6}},
              "y": {"field": "y", "type": "quantitative", "scale": {"type": "log", "domain": [0.001, 1], "nice": false}, "axis": {"title": "OD₆₀₀", "tickCount": 5, "tickSize": 4, "labelPadding": 1, "titlePadding": -12}},
              "color": {"field": "m", "type": "nominal", "scale": {"domain": ["0", "0.25", "0.5", "1", "2"], "range": ["#16167A", "#1F1FC2", "#2F2FF2", "#6A6AF2", "#9C9CF4"]},
                "legend": {"title": "[MEM]", "orient": "none", "legendX": 255, "legendY": -16, "symbolSize": 45, "rowPadding": 5, "labelOffset": 10, "titlePadding": 2, "encode": {"title": {"update": {"dx": {"value": 18}}}}}}
            },
            "layer": [
              {"mark": {"type": "errorbar", "opacity": 0.45, "thickness": 1, "clip": true}, "encoding": {"yError": {"field": "e"}}},
              {"mark": {"type": "line", "strokeWidth": 1, "clip": true}},
              {"mark": {"type": "point", "filled": true, "opacity": 1, "size": 26, "clip": true},
               "encoding": {"shape": {"field": "m", "type": "nominal", "scale": {"domain": ["0", "0.25", "0.5", "1", "2"], "range": ["circle", "triangle-up", "triangle-up", "triangle-down", "diamond"]},
                 "legend": {"title": "[MEM]", "orient": "none", "legendX": 255, "legendY": -16, "symbolSize": 45, "rowPadding": 5, "labelOffset": 10, "titlePadding": 2, "encode": {"title": {"update": {"dx": {"value": 18}}}}}}}}
            ]
          }]
        },
        {
          "title": {"text": "D", "anchor": "start", "frame": "group", "fontSize": 20, "dx": -8, "offset": -4},
          "resolve": {"scale": {"color": "independent", "shape": "independent"}},
          "vconcat": [{
            "width": 257, "height": 168,
            "title": {"text": "[MEM] 0.5 μg/mL", "frame": "group", "offset": 5, "dx": 14},
            "transform": [{"filter": "datum.m == '0.5'"}],
            "encoding": {
              "x": {"field": "t", "type": "quantitative", "scale": {"domain": [0, 21], "nice": false}, "axis": {"values": [0,1,2,3,4,5,6,7,8,9,10,11,12,13,14,15,16,17,18,19,20,21], "labelExpr": "datum.value % 5 == 0 && datum.value <= 20 ? datum.label : ''", "title": "time (h)", "tickSize": 4, "labelPadding": 2, "titlePadding": 6}},
              "y": {"field": "y", "type": "quantitative", "scale": {"type": "log", "domain": [0.0001, 1], "nice": false}, "axis": {"title": "OD₆₀₀", "tickCount": 5, "tickSize": 4, "labelPadding": 1, "titlePadding": -12}},
              "color": {"field": "g", "type": "nominal", "scale": {"domain": ["A", "B", "C"], "range": ["#F21818", "#2CB82C", "#1818F0"]},
                "legend": {"title": null, "orient": "none", "legendX": 120, "legendY": 99, "symbolSize": 40, "rowPadding": 10, "labelOffset": 9, "labelFontSize": 14, "labelFontStyle": "italic",
                  "labelExpr": "datum.value == 'A' ? 'Δpp Δhfq' : datum.value == 'B' ? 'Δpp yfiNⁱⁿᵈ  Δhfq' : 'Δpp PA2133ⁱⁿᵈ Δhfq'"}}
            },
            "layer": [
              {"mark": {"type": "errorbar", "opacity": 0.45, "thickness": 1, "clip": true}, "encoding": {"yError": {"field": "e"}}},
              {"mark": {"type": "point", "filled": true, "opacity": 1, "size": 20, "clip": true},
               "encoding": {"shape": {"field": "g", "type": "nominal", "scale": {"domain": ["A", "B", "C"], "range": ["circle", "square", "circle"]},
                 "legend": {"title": null, "orient": "none", "legendX": 120, "legendY": 99, "symbolSize": 40, "rowPadding": 10, "labelOffset": 9, "labelFontSize": 14, "labelFontStyle": "italic",
                  "labelExpr": "datum.value == 'A' ? 'Δpp Δhfq' : datum.value == 'B' ? 'Δpp yfiNⁱⁿᵈ  Δhfq' : 'Δpp PA2133ⁱⁿᵈ Δhfq'"}}}}
            ]
          }]
        }
      ]
    }
  ]
}
